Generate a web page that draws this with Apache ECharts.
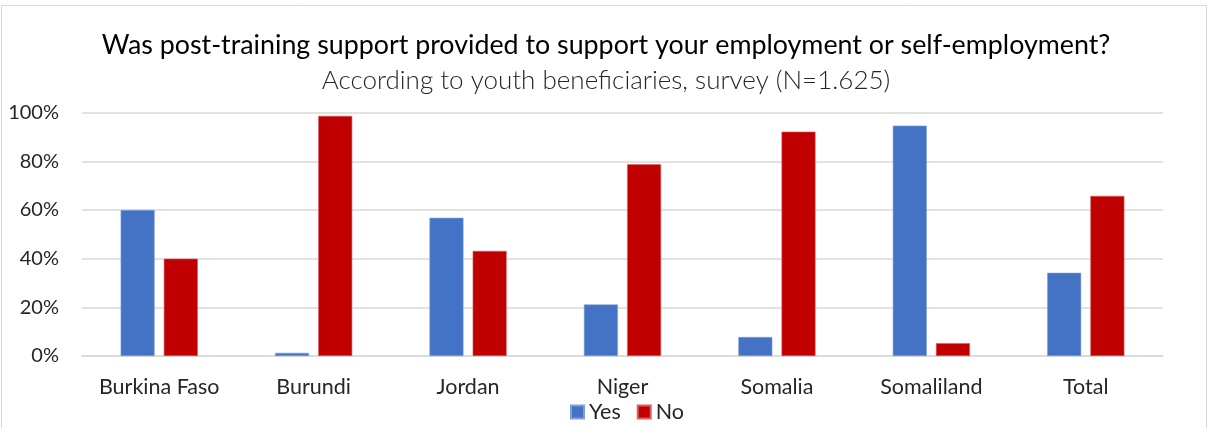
<!DOCTYPE html>
<html>
<head>
<meta charset="utf-8">
<title>Post-training support</title>
<script src="https://cdn.jsdelivr.net/npm/echarts@6/dist/echarts.min.js"></script>
<style>
  html, body { margin: 0; padding: 0; background: #fff; }
  #chart { width: 1212px; height: 428px; }
</style>
</head>
<body>
<div id="chart"></div>
<script>
// Survey answers by country, share of respondents (%)
const categories = ['Burkina Faso', 'Burundi', 'Jordan', 'Niger', 'Somalia', 'Somaliland', 'Total'];
const yesValues = [60.0, 1.3, 56.8, 21.2, 7.8, 94.7, 34.2];
const noValues  = [40.0, 98.7, 43.2, 78.8, 92.2, 5.3, 65.8];
const seriesNames = ['Yes', 'No'];

const titleText = 'Was post-training support provided to support your employment or self-employment?';
const subtitleText = 'According to youth beneficiaries, survey (N=1.625)';

const FONT = 'Lato, "Open Sans", sans-serif';

const chart = echarts.init(document.getElementById('chart'), null, { renderer: 'canvas' });

chart.setOption({
  backgroundColor: '#ffffff',
  animation: false,
  textStyle: { fontFamily: FONT },
  graphic: [{
    type: 'rect',
    shape: { x: 1.5, y: 5.5, width: 1205, height: 440 },
    style: { fill: 'none', stroke: '#d9d9d9', lineWidth: 1 },
    silent: true
  }],
  title: [{
    text: titleText,
    left: 'center',
    top: 25,
    textStyle: { fontFamily: FONT, fontSize: 26.8, fontWeight: 'normal', color: '#000000', lineHeight: 30 }
  }, {
    text: subtitleText,
    left: 'center',
    top: 61,
    textStyle: { fontFamily: FONT, fontSize: 26, fontWeight: 300, color: '#262626', lineHeight: 30 }
  }],
  legend: {
    data: seriesNames,
    top: 396,
    left: 565,
    itemWidth: 13,
    itemHeight: 13,
    itemGap: 16,
    icon: 'rect',
    textStyle: { fontFamily: FONT, fontSize: 21.5, color: '#262626', lineHeight: 16 }
  },
  grid: {
    left: 82,
    right: 49,
    top: 112.7,
    bottom: 72,
    containLabel: false
  },
  xAxis: {
    type: 'category',
    data: categories,
    axisLine: { show: true, lineStyle: { color: '#d9d9d9', width: 1.5 } },
    axisTick: { show: false },
    axisLabel: {
      interval: 0,
      fontFamily: FONT,
      fontSize: 21.5,
      color: '#262626',
      margin: 20,
      lineHeight: 22
    }
  },
  yAxis: {
    type: 'value',
    min: 0,
    max: 100,
    interval: 20,
    axisLine: { show: false },
    axisTick: { show: false },
    splitLine: { lineStyle: { color: '#d9d9d9', width: 1.5 } },
    axisLabel: {
      formatter: '{value}%',
      fontFamily: FONT,
      fontSize: 20,
      color: '#262626',
      margin: 23
    }
  },
  series: [{
    name: seriesNames[0],
    type: 'bar',
    data: yesValues,
    barWidth: 34,
    barGap: '27%',
    itemStyle: { color: '#4472C4', borderColor: '#7f9fd9', borderWidth: 0.6 }
  }, {
    name: seriesNames[1],
    type: 'bar',
    data: noValues,
    barWidth: 34,
    barGap: '27%',
    itemStyle: { color: '#C00000', borderColor: '#d96060', borderWidth: 0.6 }
  }]
});
</script>
</body>
</html>
